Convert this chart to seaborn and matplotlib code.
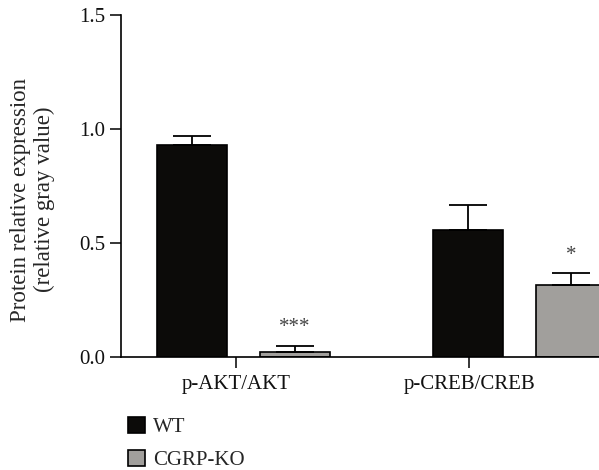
import numpy as np
import pandas as pd
import seaborn as sns
from matplotlib import pyplot as plt

# values
proteins = ["p-AKT/AKT", "p-CREB/CREB"]
groups = ["WT", "CGRP-KO"]
wt_mean = [0.93, 0.555]
wt_err = [0.04, 0.11]
ko_mean = [0.02, 0.317]
ko_err = [0.03, 0.05]
stars = ["***", "*"]

colors = {"WT": "#0c0b09", "CGRP-KO": "#a29f9b"}

df = pd.DataFrame({
    "protein": proteins * 2,
    "group": ["WT"] * 2 + ["CGRP-KO"] * 2,
    "value": wt_mean + ko_mean,
    "err": wt_err + ko_err,
})

sns.set_style("ticks")
plt.rcParams["font.family"] = ["Liberation Serif", "DejaVu Serif"]
plt.rcParams["font.size"] = 15

fig = plt.figure(figsize=(5.99, 4.70), dpi=100)
ax = fig.add_axes([0.202, 0.2404, 0.798, 0.7277])

sns.barplot(data=df, x="protein", y="value", hue="group", hue_order=groups,
            palette=colors, errorbar=None, width=0.745, gap=0.32,
            edgecolor="black", linewidth=1.2, ax=ax)

# upper-only error bars and significance stars, placed on the drawn bars
for container, g in zip(ax.containers, groups):
    sub = df[df["group"] == g].set_index("protein").loc[proteins]
    xs = [p.get_x() + p.get_width() / 2 for p in container.patches]
    ys = [p.get_height() for p in container.patches]
    ax.errorbar(xs, ys, yerr=[np.zeros(len(ys)), sub["err"].values],
                fmt="none", ecolor="black", elinewidth=1.3, capsize=13.5,
                capthick=1.3, zorder=1)
    if g == "CGRP-KO":
        for x, y, e, s in zip(xs, ys, sub["err"].values, stars):
            ax.annotate(s, (x, y + e), xytext=(0, 6), textcoords="offset points",
                        ha="center", va="bottom", color="#444444", fontsize=15)

ax.set_xlim(-0.443, 1.286)
ax.set_ylim(0, 1.5)
ax.set_yticks([0, 0.5, 1.0, 1.5])
ax.set_yticklabels(["0.0", "0.5", "1.0", "1.5"])
ax.set_xticks([-0.028, 0.817])
ax.set_xticklabels(proteins)
ax.set_xlabel("")
ax.set_ylabel("Protein relative expression\n(relative gray value)", fontsize=16.5,
              linespacing=1.15)
ax.yaxis.set_label_coords(-0.138, 0.46)
ax.tick_params(axis="both", direction="out", length=8, width=1.1, color="black",
               labelsize=15, labelcolor="#111111")
ax.tick_params(axis="x", pad=5)
for side in ["top", "right"]:
    ax.spines[side].set_visible(False)
for side in ["left", "bottom"]:
    ax.spines[side].set_linewidth(1.2)
    ax.spines[side].set_color("black")

handles, labels = ax.get_legend_handles_labels()
ax.legend(handles, labels, loc="upper left", bbox_to_anchor=(0.2, 0.13),
          bbox_transform=fig.transFigure, frameon=False, fontsize=15,
          handlelength=0.8, handleheight=0.8, handletextpad=0.4,
          labelspacing=0.6, borderaxespad=0)

fig.savefig("out.png", dpi=100)
